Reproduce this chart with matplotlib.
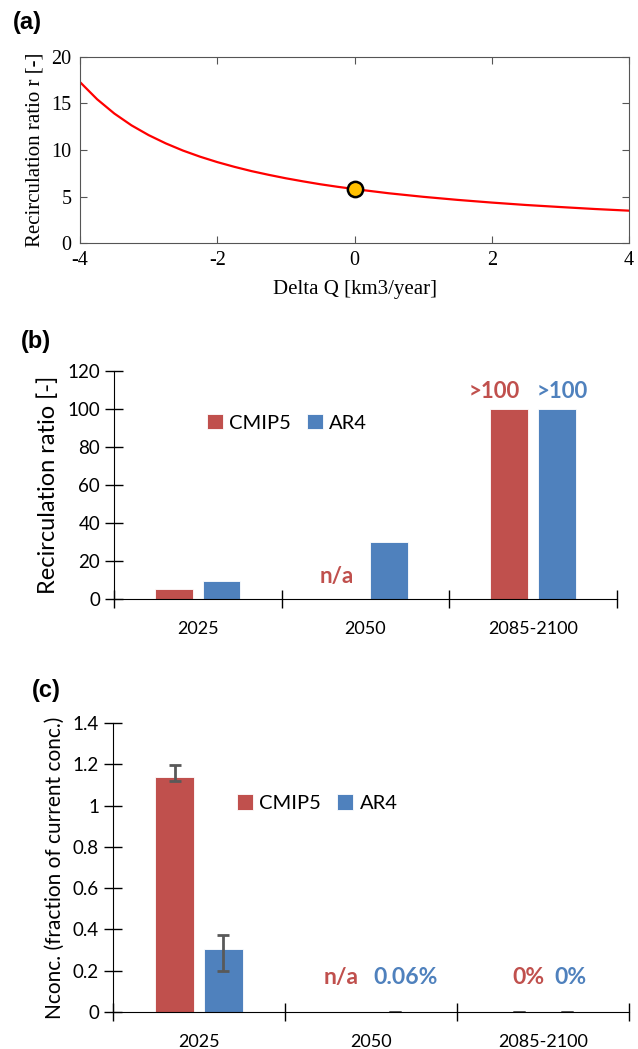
import numpy as np
import matplotlib.pyplot as plt

plt.rcParams['axes.unicode_minus'] = False

# panel (a): recirculation ratio vs change in discharge
dq = [-4, -3.75, -3.5, -3.25, -3, -2.75, -2.5, -2.25, -2, -1.75, -1.5, -1.25, -1,
      -0.75, -0.5, -0.25, 0, 0.5, 1, 1.5, 2, 2.5, 3, 3.5, 4]
ratio = [17.3, 15.45, 13.92, 12.65, 11.6, 10.71, 9.94, 9.28, 8.7, 8.19, 7.73, 7.33, 6.96,
         6.63, 6.32, 6.05, 5.8, 5.35, 4.97, 4.64, 4.35, 4.09, 3.87, 3.66, 3.48]
current_dq = [0]
current_ratio = [5.8]

# panels (b) and (c)
periods = ['2025', '2050', '2085-2100']
recirc_cmip5 = [5, 0, 100]
recirc_ar4 = [9.5, 30, 100]
recirc_text_cmip5 = ['', 'n/a', '>100']
recirc_text_ar4 = ['', '', '>100']

nconc_cmip5 = [1.14, np.nan, 0]
nconc_cmip5_lo = [0.02, 0, 0]
nconc_cmip5_hi = [0.055, 0, 0]
nconc_ar4 = [0.305, 0.0006, 0]
nconc_ar4_lo = [0.105, 0, 0]
nconc_ar4_hi = [0.07, 0, 0]
nconc_text_cmip5 = ['', 'n/a', '0%']
nconc_text_ar4 = ['', '0.06%', '0%']

red = '#C0504D'
blue = '#4F81BD'
sans = ['Lato', 'DejaVu Sans']

fig = plt.figure(figsize=(6.38, 10.49), dpi=100)

# ---------- (a)
ax1 = fig.add_axes([0.1254, 0.7683, 0.8606, 0.1774])
ax1.plot(dq, ratio, color='red', lw=1.6)
ax1.plot(current_dq, current_ratio, 'o', color='#FFC000', mec='black', mew=1.8, ms=11)
ax1.set_xlim(-4, 4)
ax1.set_ylim(0, 20)
ax1.set_xticks([-4, -2, 0, 2, 4])
ax1.set_yticks([0, 5, 10, 15, 20])
ax1.tick_params(direction='in', top=True, right=True, length=5, color='#555555',
                labelsize=14.5, pad=6)
for lab in ax1.get_xticklabels() + ax1.get_yticklabels():
    lab.set_family('Liberation Serif')
for s in ax1.spines.values():
    s.set_color('#555555')
ax1.set_xlabel('Delta Q [km3/year]', family='Liberation Serif', fontsize=15, labelpad=7)
ax1.set_ylabel('Recirculation ratio r [-]', family='Liberation Serif', fontsize=15, labelpad=5)
fig.text(0.02, 0.979, '(a)', family='Liberation Sans', weight='bold', fontsize=17,
         va='center')

x = np.arange(len(periods)) + 0.5
off = 0.142
w = 0.225


def bar_axes(ax):
    ax.spines['top'].set_visible(False)
    ax.spines['right'].set_visible(False)
    ax.set_xlim(0, 3)
    ax.set_xticks([0, 1, 2, 3])
    ax.set_xticklabels([])
    ax.set_xticks(x, minor=True)
    ax.set_xticklabels(periods, minor=True, family=sans, fontsize=13)
    ax.tick_params(axis='x', which='minor', length=0, pad=16)
    ax.tick_params(axis='both', which='major', direction='inout', length=13, width=1)
    ax.tick_params(axis='y', labelsize=13.5)
    for lab in ax.get_yticklabels():
        lab.set_family(sans)


# ---------- (b)
ax2 = fig.add_axes([0.1787, 0.429, 0.788, 0.2174])
ax2.bar(x - off, recirc_cmip5, w, color=red, edgecolor='white', lw=0.6, label='CMIP5')
ax2.bar(x + off, recirc_ar4, w, color=blue, edgecolor='white', lw=0.6, label='AR4')
ax2.set_ylim(0, 120)
ax2.set_yticks(range(0, 121, 20))
bar_axes(ax2)
red_dx = [0, -0.027, -0.09]
blue_dx = [0, 0, 0.03]
for i in range(len(periods)):
    ty = 109 if recirc_text_cmip5[i] == '>100' else 11.6
    ax2.text(x[i] - off + red_dx[i], ty, recirc_text_cmip5[i], color=red, weight='bold',
             family=sans, fontsize=16, ha='center', va='center')
    ax2.text(x[i] + off + blue_dx[i], ty, recirc_text_ar4[i], color=blue, weight='bold',
             family=sans, fontsize=16, ha='center', va='center')
ax2.set_ylabel('Recirculation ratio [-]', family=sans, fontsize=17, labelpad=6)
ax2.legend(loc='center', bbox_to_anchor=(0.344, 0.772), ncol=2, frameon=False,
           prop={'family': sans, 'size': 14.5}, handlelength=0.8, handleheight=0.8,
           handletextpad=0.3, columnspacing=0.8)
fig.text(0.033, 0.674, '(b)', family='Liberation Sans', weight='bold', fontsize=17,
         va='center')

# ---------- (c)
ax3 = fig.add_axes([0.177, 0.0353, 0.809, 0.2755])
ax3.bar(x - off, nconc_cmip5, w, color=red, edgecolor='white', lw=0.6, label='CMIP5',
        yerr=[nconc_cmip5_lo, nconc_cmip5_hi], ecolor='#595959', capsize=4,
        error_kw={'elinewidth': 2, 'capthick': 2})
ax3.bar(x + off, nconc_ar4, w, color=blue, edgecolor='white', lw=0.6, label='AR4',
        yerr=[nconc_ar4_lo, nconc_ar4_hi], ecolor='#595959', capsize=4,
        error_kw={'elinewidth': 2, 'capthick': 2})
ax3.set_ylim(0, 1.4)
ax3.set_yticks([0, 0.2, 0.4, 0.6, 0.8, 1, 1.2, 1.4])
ax3.set_yticklabels(['0', '0.2', '0.4', '0.6', '0.8', '1', '1.2', '1.4'])
bar_axes(ax3)
red_dx = [0, -0.03, 0.055]
blue_dx = [0, 0.06, 0.02]
for i in range(len(periods)):
    ax3.text(x[i] - off + red_dx[i], 0.165, nconc_text_cmip5[i], color=red, weight='bold',
             family=sans, fontsize=16.5, ha='center', va='center')
    ax3.text(x[i] + off + blue_dx[i], 0.165, nconc_text_ar4[i], color=blue, weight='bold',
             family=sans, fontsize=16.5, ha='center', va='center')
ax3.set_ylabel('Nconc. (fraction of current conc.)', family=sans, fontsize=15, labelpad=6)
ax3.legend(loc='center', bbox_to_anchor=(0.396, 0.723), ncol=2, frameon=False,
           prop={'family': sans, 'size': 14.5}, handlelength=0.8, handleheight=0.8,
           handletextpad=0.3, columnspacing=0.8)
fig.text(0.05, 0.342, '(c)', family='Liberation Sans', weight='bold', fontsize=17,
         va='center')

fig.savefig('out.png', dpi=100)
